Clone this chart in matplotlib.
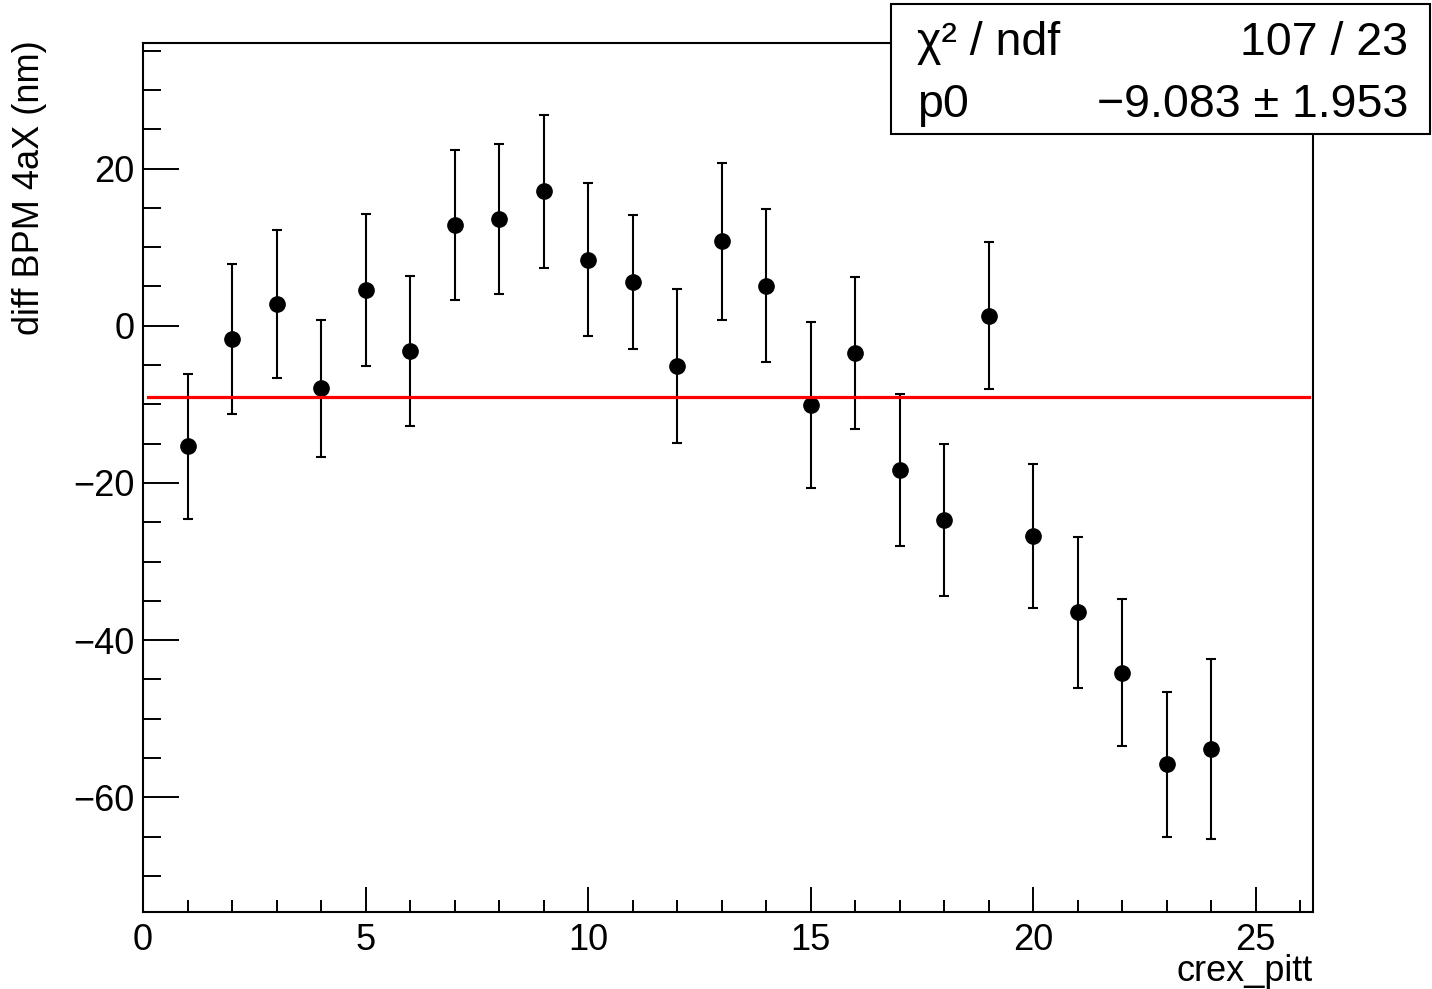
import matplotlib
matplotlib.use('Agg')
import matplotlib.pyplot as plt
from matplotlib.ticker import MultipleLocator
from matplotlib.patches import Rectangle

plt.rcParams['font.family'] = ['Liberation Sans', 'DejaVu Sans']

run = list(range(1, 25))
diff = [-15.36, -1.70, 2.74, -7.97, 4.57, -3.22, 12.81, 13.58, 17.10, 8.40,
        5.56, -5.12, 10.73, 5.06, -10.14, -3.48, -18.40, -24.70, 1.27, -26.76,
        -36.48, -44.15, -55.77, -53.86]
err = [9.27, 9.56, 9.43, 8.67, 9.65, 9.60, 9.56, 9.59, 9.75, 9.71,
       8.54, 9.82, 10.0, 9.73, 10.56, 9.69, 9.65, 9.69, 9.33, 9.20,
       9.63, 9.33, 9.22, 11.47]
fit_p0 = -9.083
fit_p0_err = 1.953
chi2 = 107
ndf = 23
fit_xrange = [0.12, 26.2]

W, H = 1432, 989
fig = plt.figure(figsize=(W / 100, H / 100), dpi=100)
ax = fig.add_axes([143 / W, 1 - 912 / H, (1313 - 143) / W, (912 - 43) / H])

ax.errorbar(run, diff, yerr=err, fmt='o', color='black', ms=11, elinewidth=1.5,
            capsize=3.5, capthick=1.5, zorder=3)
ax.plot(fit_xrange, [fit_p0, fit_p0], color='red', lw=2.3, zorder=4)

ax.set_xlim(0, 26.29)
ax.set_ylim(-74.59, 35.97)
ax.xaxis.set_major_locator(MultipleLocator(5))
ax.xaxis.set_minor_locator(MultipleLocator(1))
ax.yaxis.set_major_locator(MultipleLocator(20))
ax.yaxis.set_minor_locator(MultipleLocator(5))
ax.tick_params(axis='both', which='both', direction='in', top=False, right=False,
               width=1.4, labelsize=26)
ax.tick_params(axis='x', which='major', length=18, pad=8)
ax.tick_params(axis='x', which='minor', length=9)
ax.tick_params(axis='y', which='major', length=26, pad=6)
ax.tick_params(axis='y', which='minor', length=13)
for s in ax.spines.values():
    s.set_linewidth(1.5)

fig.text(1313 / W, 1 - 981 / H, 'crex_pitt', ha='right', va='baseline', fontsize=26)
fig.text(30 / W, 1 - 40 / H, 'diff BPM 4aX (nm)', ha='center', va='top',
         rotation=90, fontsize=26)

# stats box
fig.patches.append(Rectangle((891 / W, 1 - 134 / H), (1430 - 891) / W, (134 - 4) / H,
                             transform=fig.transFigure, facecolor='white',
                             edgecolor='black', lw=1.5, zorder=10))
fig.text(917 / W, 1 - 55 / H, 'χ² / ndf', ha='left', va='baseline', fontsize=33.5, zorder=11)
fig.text(1408 / W, 1 - 55 / H, f'{chi2} / {ndf}', ha='right', va='baseline', fontsize=33.5, zorder=11)
fig.text(917 / W, 1 - 117 / H, 'p0', ha='left', va='baseline', fontsize=33.5, zorder=11)
fig.text(1408 / W, 1 - 117 / H, f'\u2212{abs(fit_p0):.3f} ± {fit_p0_err:.3f}', ha='right',
         va='baseline', fontsize=33.5, zorder=11)

fig.savefig('out.png', dpi=100)
